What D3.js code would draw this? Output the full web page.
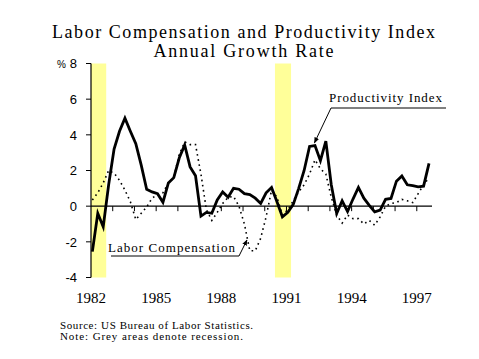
<!DOCTYPE html>
<html><head><meta charset="utf-8">
<script src="https://cdn.jsdelivr.net/npm/d3@7"></script>
<style>html,body{margin:0;padding:0;background:#fff;}svg{display:block;}</style>
</head><body>
<svg id="chart" width="479" height="359"></svg>
<script>
// ---- data (quarterly, 1982Q1 .. 1997Q3), annual growth rate in % ----
const startYear = 1982;
const productivity = [-2.55,-0.4,-1.16,1.2,3.2,4.2,4.93,4.2,3.5,2.3,0.95,0.8,0.7,0.22,1.3,1.6,2.7,3.43,2.2,1.7,
  -0.56,-0.35,-0.4,0.35,0.8,0.5,1.0,0.95,0.7,0.65,0.45,0.15,0.75,1.05,0.25,-0.6,-0.35,0.1,1.0,2.0,
  3.35,3.4,2.55,3.65,1.2,-0.41,0.3,-0.3,0.4,1.05,0.45,0.05,-0.32,-0.22,0.38,0.43,1.4,1.69,1.2,1.15,1.08,1.12,2.4];
const laborComp = [0.35,0.75,1.3,2.0,1.85,1.45,0.9,0.25,-0.75,-0.4,-0.05,0.45,0.65,0.75,1.3,1.6,2.9,3.6,3.45,3.45,
  1.8,-0.2,-0.8,-0.35,0.15,0.5,0.55,0.0,-1.0,-2.5,-2.5,-1.8,-0.6,0.9,0.5,-0.5,-0.2,0.3,0.8,1.2,
  1.8,2.6,2.1,1.8,0.5,-0.5,-0.95,-0.5,-0.7,-0.7,-1.0,-0.8,-1.07,-0.6,0.0,0.15,0.2,0.38,0.3,0.2,0.7,1.2,1.6];
const recessions = [[1982.0, 1982.7], [1990.47, 1991.21]];
const yTicks = [-4,-2,0,2,4,6,8];
const xTickYears = [1983,1984,1985,1986,1987,1988,1989,1990,1991,1992,1993,1994,1995,1996,1997];
const xLabelYears = ["1982","1985","1988","1991","1994","1997"];
const titleLines = ["Labor Compensation and Productivity Index", "Annual Growth Rate"];
const notes = ["Source: US Bureau of Labor Statistics.", "Note: Grey areas denote recession."];

// ---- layout ----
const svg = d3.select("#chart");
const x = d3.scaleLinear().domain([1982, 1997.7]).range([91, 432]);
const y = d3.scaleLinear().domain([-4, 8]).range([277.5, 63.5]);
const t = i => startYear + i / 4 + 0.0625;
const serif = "'Liberation Serif', 'Times New Roman', serif";
const sans = "'Liberation Sans', Arial, sans-serif";

// recessions
svg.append("g").selectAll("rect").data(recessions).join("rect")
  .attr("x", d => x(d[0])).attr("width", d => x(d[1]) - x(d[0]))
  .attr("y", y(8)).attr("height", y(-4) - y(8))
  .attr("fill", "#ffff99");

// y axis
const yAxis = svg.append("g");
yAxis.append("line").attr("x1", x(1982)).attr("x2", x(1982)).attr("y1", y(8)).attr("y2", y(-4))
  .attr("stroke", "#000").attr("stroke-width", 1.2);
yAxis.selectAll("line.tk").data(yTicks).join("line").attr("class","tk")
  .attr("x1", x(1982) - 5).attr("x2", x(1982)).attr("y1", d => y(d)).attr("y2", d => y(d))
  .attr("stroke", "#000");
yAxis.selectAll("text").data(yTicks).join("text")
  .attr("x", 77).attr("y", d => y(d)).attr("dy", "0.36em")
  .attr("text-anchor", "end").attr("font-family", sans)
  .attr("font-size", 13).text(d => d);
svg.append("text").attr("x", 57).attr("y", y(8) + 4).attr("font-family", sans)
  .attr("font-size", 10).text("%");

// x axis at zero
const xAxis = svg.append("g");
xAxis.append("line").attr("x1", x(1982)).attr("x2", x(1997.7)).attr("y1", y(0)).attr("y2", y(0))
  .attr("stroke", "#000").attr("stroke-width", 1.2);
xAxis.selectAll("line.tk").data(xTickYears).join("line").attr("class","tk")
  .attr("x1", d => x(d)).attr("x2", d => x(d)).attr("y1", y(0)).attr("y2", y(0) + 5)
  .attr("stroke", "#000");
svg.append("g").selectAll("text").data(xLabelYears).join("text")
  .attr("x", d => x(+d)).attr("y", 303).attr("text-anchor", "middle")
  .attr("font-family", serif).attr("font-size", 15)
  .attr("textLength", 30).attr("lengthAdjust", "spacing").text(d => d);

// lines
const line = d3.line().x((d, i) => x(t(i))).y(d => y(d));
svg.append("path").datum(laborComp).attr("d", line).attr("fill", "none")
  .attr("stroke", "#000").attr("stroke-width", 1.6).attr("stroke-dasharray", "1.6,3.6");
svg.append("path").datum(productivity).attr("d", line).attr("fill", "none")
  .attr("stroke", "#000").attr("stroke-width", 2.8).attr("stroke-linejoin", "miter");

// arrow marker
const defs = svg.append("defs");
defs.append("marker").attr("id", "arr").attr("viewBox", "0 0 10 10").attr("refX", 9).attr("refY", 5)
  .attr("markerWidth", 6).attr("markerHeight", 6).attr("orient", "auto")
  .append("path").attr("d", "M0,1 L10,5 L0,9 Z").attr("fill", "#000");

// Labor Compensation annotation
svg.append("text").attr("x", 108).attr("y", 252).attr("font-family", serif).attr("font-size", 13)
  .attr("textLength", 127).attr("lengthAdjust", "spacing").text("Labor Compensation");
svg.append("path").attr("d", `M111,256 L239,256 L${x(1989.18)},${y(-1.9)}`)
  .attr("fill", "none").attr("stroke", "#000").attr("stroke-width", 1).attr("marker-end", "url(#arr)");

// Productivity Index annotation
svg.append("text").attr("x", 329).attr("y", 101.5).attr("font-family", serif).attr("font-size", 13)
  .attr("textLength", 113).attr("lengthAdjust", "spacing").text("Productivity Index");
svg.append("path").attr("d", `M446,108 L331,108 L${x(t(40.9))},${y(3.55)}`)
  .attr("fill", "none").attr("stroke", "#000").attr("stroke-width", 1).attr("marker-end", "url(#arr)");

// title
svg.append("g").selectAll("text").data(titleLines).join("text")
  .attr("x", 243.5).attr("y", (d, i) => 38 + i * 18.7).attr("text-anchor", "middle")
  .attr("font-family", serif).attr("font-size", 18)
  .attr("textLength", (d, i) => i === 0 ? 383 : 180).attr("lengthAdjust", "spacing").text(d => d);

// notes
svg.append("g").selectAll("text").data(notes).join("text")
  .attr("x", 60).attr("y", (d, i) => 329 + i * 11)
  .attr("font-family", serif).attr("font-size", 11)
  .attr("textLength", (d, i) => i === 0 ? 193 : 183).attr("lengthAdjust", "spacing").text(d => d);
</script>
</body></html>
